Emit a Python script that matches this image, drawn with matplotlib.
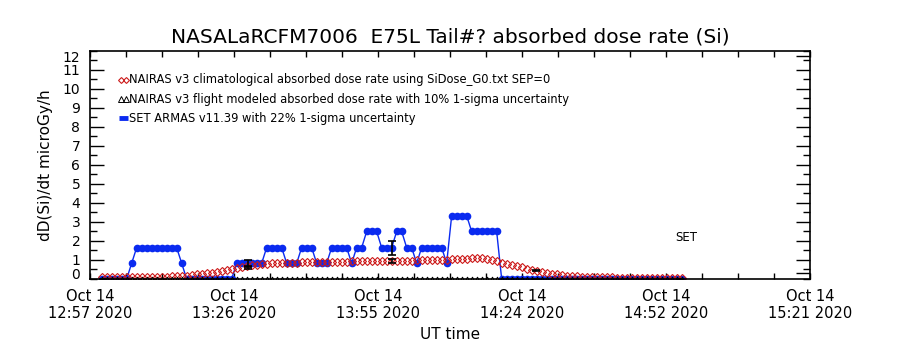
import pandas as pd
import matplotlib
matplotlib.use("Agg")
import matplotlib.pyplot as plt
import matplotlib.dates as mdates
from matplotlib.ticker import FixedLocator, MultipleLocator

# Axis window (UT)
axis_start = pd.Timestamp("2020-10-14 12:57:40")
axis_end = pd.Timestamp("2020-10-14 15:21:40")

# SET ARMAS dose rate, one sample per minute from 13:00 UT (microGy/h)
set_dose = [
    0.0, 0.0, 0.0, 0.0, 0.0, 0.0, 0.83,
    1.65, 1.65, 1.65, 1.65, 1.65, 1.65, 1.65, 1.65, 1.65, 0.83,
    0.0, 0.0, 0.0, 0.0, 0.0, 0.0, 0.0, 0.0, 0.0, 0.0,
    0.83, 0.83, 0.83, 0.83, 0.83, 0.83,
    1.65, 1.65, 1.65, 1.65, 0.83, 0.83, 0.83,
    1.65, 1.65, 1.65, 0.83, 0.83, 0.83,
    1.65, 1.65, 1.65, 1.65, 0.83, 1.65, 1.65,
    2.5, 2.5, 2.5, 1.65, 1.65, 1.65, 2.5, 2.5, 1.65, 1.65, 0.83,
    1.65, 1.65, 1.65, 1.65, 1.65, 0.83,
    3.33, 3.33, 3.33, 3.33, 2.5, 2.5, 2.5, 2.5, 2.5, 2.5,
    0.0, 0.0, 0.0, 0.0, 0.0, 0.0, 0.0, 0.0, 0.0, 0.0,
    0.0, 0.0, 0.0, 0.0, 0.0, 0.0, 0.0, 0.0, 0.0, 0.0,
    0.0, 0.0, 0.0, 0.0, 0.0, 0.0, 0.0, 0.0, 0.0, 0.0,
    0.0, 0.0, 0.0, 0.0, 0.0, 0.0, 0.0,
]

# NAIRAS v3 climatological dose rate, same one-minute samples
nairas_clim = [
    0.08, 0.09, 0.09, 0.10, 0.10, 0.10, 0.11, 0.11, 0.11, 0.12, 0.12, 0.12,
    0.13, 0.13, 0.14, 0.14, 0.15,
    0.17, 0.20, 0.24, 0.28, 0.31, 0.34, 0.37, 0.41, 0.46, 0.52, 0.58, 0.63,
    0.67, 0.72, 0.76, 0.79, 0.81, 0.83, 0.84, 0.85, 0.85,
    0.86, 0.86, 0.87, 0.87, 0.88, 0.88, 0.89, 0.89, 0.90, 0.90, 0.91, 0.92,
    0.93, 0.94, 0.95, 0.95, 0.95, 0.96, 0.96, 0.96,
    0.96, 0.97, 0.97, 0.97, 0.97, 0.98, 0.98, 0.99, 0.99, 1.00, 1.01, 1.02,
    1.03, 1.04, 1.05, 1.06, 1.08, 1.09, 1.09, 1.07,
    1.00, 0.93, 0.86, 0.80, 0.74, 0.68, 0.61, 0.55, 0.48, 0.43, 0.38, 0.33,
    0.28, 0.24, 0.21, 0.18, 0.16, 0.14, 0.12, 0.11, 0.10, 0.09, 0.08,
    0.08, 0.08, 0.07, 0.07, 0.07, 0.07, 0.06, 0.06, 0.06, 0.06, 0.06, 0.05,
    0.05, 0.05, 0.05, 0.05,
]

sample_times = pd.date_range("2020-10-14 13:00:00", periods=len(set_dose), freq="1min")

# NAIRAS flight modeled track sits on zero along the flight
nairas_flight_track = [0.0] * len(sample_times)

# points carrying uncertainty bars
check_times = pd.to_datetime([
    "2020-10-14 13:00:20", "2020-10-14 13:29:10", "2020-10-14 13:58:00",
    "2020-10-14 14:26:50", "2020-10-14 14:55:40",
])
set_check = [0.0, 0.83, 1.65, 0.0, 0.0]
nairas_flight_check = [0.0, 0.60, 0.96, 0.44, 0.0]

legend_labels = [
    "NAIRAS v3 climatological absorbed dose rate using SiDose_G0.txt SEP=0",
    "NAIRAS v3 flight modeled absorbed dose rate with 10% 1-sigma uncertainty",
    "SET ARMAS v11.39 with 22% 1-sigma uncertainty",
]

blue = "#0a2af0"
red = "#cc1a1a"

fig = plt.figure(figsize=(9, 3.5), dpi=100)
ax = fig.add_axes([0.1, 0.2029, 0.8, 0.6514])

ax.plot(sample_times, set_dose, "-", color=blue, lw=1.0,
        marker="o", ms=4.5, mfc=blue, mec=blue)
ax.plot(sample_times, nairas_clim, ls="none", marker="D", ms=3.6,
        mfc="none", mec=red, mew=0.8)
ax.plot(sample_times, nairas_flight_track, ls="none", marker="^", ms=3.5,
        mfc="none", mec="black", mew=0.7)

ax.errorbar(check_times, set_check, yerr=[0.22 * v for v in set_check],
            fmt="none", ecolor="black", elinewidth=1.2, capsize=3.2, capthick=1.2)
ax.errorbar(check_times, nairas_flight_check, yerr=[0.10 * v for v in nairas_flight_check],
            fmt="none", ecolor="black", elinewidth=1.2, capsize=3.2, capthick=1.2)

ax.set_xlim(axis_start, axis_end)
ax.set_ylim(0, 12)

step = pd.Timedelta(minutes=28.8)
major = [axis_start + k * step for k in range(6)]
minor = [axis_start + k * step / 4 for k in range(21)]
ax.xaxis.set_major_locator(FixedLocator(mdates.date2num(major)))
ax.xaxis.set_minor_locator(FixedLocator(mdates.date2num(minor)))
ax.xaxis.set_major_formatter(mdates.DateFormatter("%b %d\n%H:%M %Y"))

ytick_pos = [0.3] + list(range(1, 12)) + [11.72]
ax.set_yticks(ytick_pos)
ax.set_yticklabels([str(i) for i in range(13)])
ax.yaxis.set_minor_locator(MultipleLocator(0.5))
yt = ax.yaxis.get_major_ticks()
for t in (yt[0], yt[-1]):
    t.tick1line.set_visible(False)
    t.tick2line.set_visible(False)

ax.tick_params(axis="x", which="both", direction="in", top=True,
               length=4, width=1, labelsize=10.5, pad=7)
ax.tick_params(axis="y", which="major", direction="in", right=True,
               length=10, width=1, labelsize=10, pad=7)
ax.tick_params(axis="y", which="minor", direction="in", right=True,
               length=5, width=1)
for s in ax.spines.values():
    s.set_linewidth(1.2)

ax.set_title("NASALaRCFM7006  E75L Tail#? absorbed dose rate (Si)",
             fontsize=14.5, pad=6)
ax.set_ylabel("dD(Si)/dt microGy/h", fontsize=11, labelpad=7)
ax.set_xlabel("UT time", fontsize=11, labelpad=4)

# hand-drawn key, no frame
ky = [0.873, 0.789, 0.706]
ax.plot([0.043, 0.050], [ky[0], ky[0]], ls="none", marker="D", ms=3,
        mfc="none", mec=red, mew=0.8, transform=ax.transAxes)
ax.plot([0.043, 0.050], [ky[1], ky[1]], ls="none", marker="^", ms=4,
        mfc="none", mec="black", mew=0.7, transform=ax.transAxes)
ax.plot([0.040, 0.053], [ky[2], ky[2]], "-", color=blue, lw=3.5,
        transform=ax.transAxes, solid_capstyle="butt")
for yy, lab in zip(ky, legend_labels):
    ax.text(0.054, yy, lab, transform=ax.transAxes, fontsize=8.3,
            va="center", ha="left")

ax.text(0.828, 0.18, "SET", transform=ax.transAxes, fontsize=8.5,
        va="center", ha="center")

fig.savefig("out.png", dpi=100)
